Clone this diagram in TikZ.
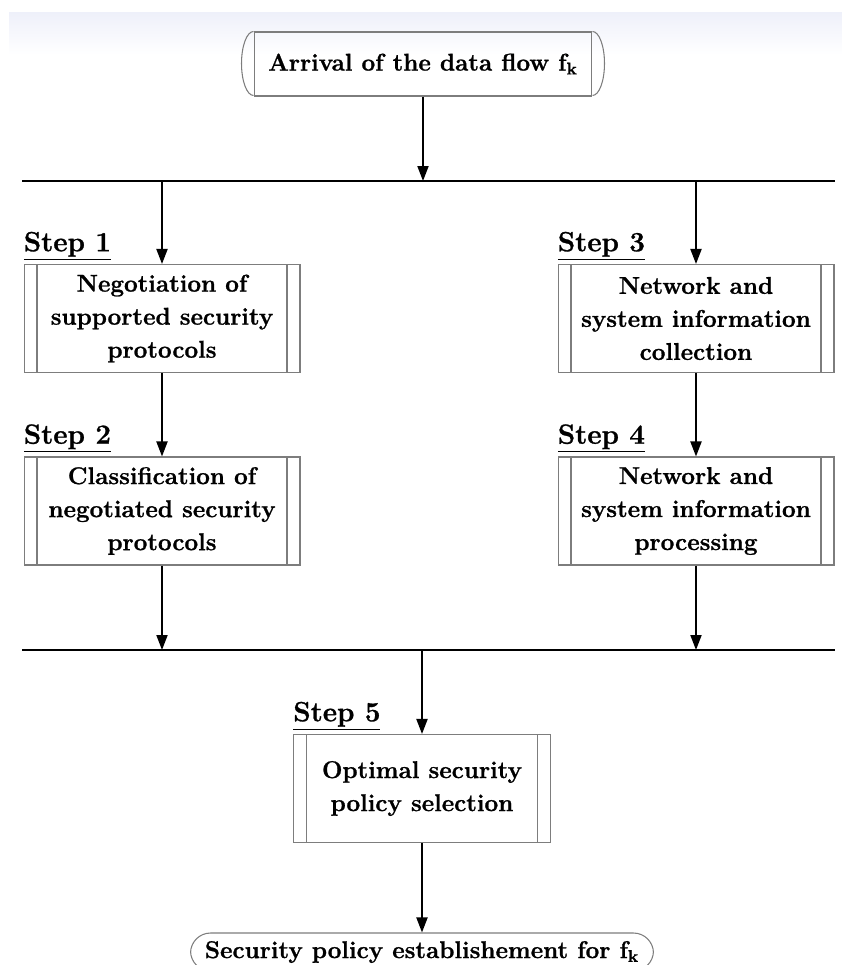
\documentclass[tikz,border=0pt]{standalone}
\usepackage{fontspec}
\setmainfont{Latin Modern Roman}[BoldFeatures={FakeBold=1}]
\usepackage{tikz}
\usetikzlibrary{arrows.meta,positioning}

\definecolor{boxgray}{RGB}{125,125,125}
\definecolor{bandtop}{RGB}{238,240,250}

\newcommand{\boxfont}{\fontsize{13.8}{18.8}\selectfont\bfseries}
\newcommand{\stepfont}{\fontsize{15.8}{18}\selectfont\bfseries}

\tikzset{
  procbox/.style={rectangle, draw=boxgray, line width=0.6pt, minimum width=5.52cm,
    minimum height=2.16cm, align=center, inner sep=0pt, font=\boxfont,
    path picture={
      \draw[boxgray, line width=0.6pt]
        ([xshift=0.26cm]path picture bounding box.north west) --
        ([xshift=0.26cm]path picture bounding box.south west);
      \draw[boxgray, line width=0.6pt]
        ([xshift=-0.26cm]path picture bounding box.north east) --
        ([xshift=-0.26cm]path picture bounding box.south east);
    }},
  steplabel/.style={anchor=south west, inner sep=0pt, font=\stepfont, yshift=0.07cm},
  flowarrow/.style={-{Triangle[length=0.3cm,width=0.22cm]}, line width=1.1pt},
  busline/.style={line width=1.1pt},
}

\begin{document}
\begin{tikzpicture}[x=0.02cm, y=-0.02cm]
    \clip (0,0) rectangle (842,965);
    \shade[top color=bandtop, bottom color=white] (9,12) rectangle (842,55);

    % start and end
    \node[rectangle, draw=boxgray, line width=0.6pt, minimum width=6.76cm,
      minimum height=1.28cm, font=\boxfont] (arrival) at (423,64)
      {Arrival of the data flow f$_{\mathbf{k}}$};
    \draw[boxgray, line width=0.6pt] (arrival.north west)
      arc[start angle=90, end angle=270, x radius=0.24cm, y radius=0.64cm];
    \draw[boxgray, line width=0.6pt] (arrival.north east)
      arc[start angle=90, end angle=-90, x radius=0.24cm, y radius=0.64cm];

    \node[rectangle, rounded corners=0.4cm, draw=boxgray, line width=0.6pt,
      minimum width=9.26cm, minimum height=0.76cm, inner sep=0pt, font=\boxfont]
      (estab) at (422,952) {Security policy establishement for f$_{\mathbf{k}}$};

    % the two bars
    \coordinate (bar1w) at (22,181);
    \coordinate (bar1e) at (835,181);
    \coordinate (bar2w) at (22,650);
    \coordinate (bar2e) at (835,650);
    \draw[busline] (bar1w) -- (bar1e);
    \draw[busline] (bar2w) -- (bar2e);

    % steps
    \node[procbox] (neg) at (162,318.5) {Negotiation of\\supported security\\protocols};
    \node[procbox] (cls) at (162,511) {Classification of\\negotiated security\\protocols};
    \node[procbox] (coll) at (696,318.5) {Network and\\system information\\collection};
    \node[procbox] (proc) at (696,511) {Network and\\system information\\processing};
    \node[procbox, minimum width=5.14cm] (sel) at (422,788.5) {Optimal security\\policy selection};

    \node[steplabel] (s1) at (neg.north west) {\underline{Step 1}};
    \node[steplabel] (s2) at (cls.north west) {\underline{Step 2}};
    \node[steplabel] (s3) at (coll.north west) {\underline{Step 3}};
    \node[steplabel] (s4) at (proc.north west) {\underline{Step 4}};
    \node[steplabel] (s5) at (sel.north west) {\underline{Step 5}};

    % arrows
    \draw[flowarrow] (arrival.south) -- (arrival.south |- bar1w);
    \draw[flowarrow] (neg.north |- bar1w) -- (neg.north);
    \draw[flowarrow] (coll.north |- bar1w) -- (coll.north);
    \draw[flowarrow] (neg) -- (cls);
    \draw[flowarrow] (coll) -- (proc);
    \draw[flowarrow] (cls.south) -- (cls.south |- bar2w);
    \draw[flowarrow] (proc.south) -- (proc.south |- bar2w);
    \draw[flowarrow] (sel.north |- bar2w) -- (sel.north);
    \draw[flowarrow] (sel) -- (estab);
\end{tikzpicture}
\end{document}
